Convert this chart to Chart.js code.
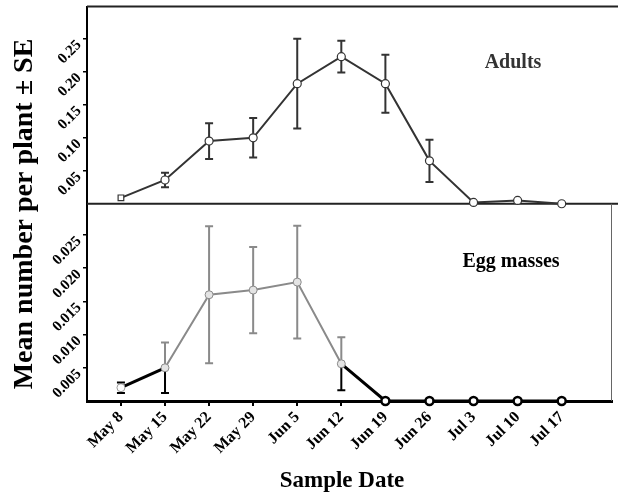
<!DOCTYPE html>
<html>
<head>
<meta charset="utf-8">
<script src="https://cdn.jsdelivr.net/npm/chart.js@4"></script>
<style>
  html, body { margin: 0; padding: 0; background: #fff; }
</style>
</head>
<body>
<canvas id="chart" width="618" height="498"></canvas>
<script>
const dates = ['May 8', 'May 15', 'May 22', 'May 29', 'Jun 5', 'Jun 12', 'Jun 19', 'Jun 26', 'Jul 3', 'Jul 10', 'Jul 17'];
const adultMean = [0.009, 0.036, 0.095, 0.100, 0.182, 0.223, 0.182, 0.065, 0.002, 0.005, 0.0];
const adultSE = [0, 0.011, 0.027, 0.030, 0.068, 0.024, 0.044, 0.032, 0, 0, 0];
const eggMean = [0.002, 0.005, 0.016, 0.0167, 0.0179, 0.0056, 0, 0, 0, 0, 0];
const eggSE = [0.0008, 0.0038, 0.0103, 0.0065, 0.0085, 0.004, 0, 0, 0, 0, 0];
const adultTicks = [0.05, 0.10, 0.15, 0.20, 0.25];
const adultTickLabels = ['0.05', '0.10', '0.15', '0.20', '0.25'];
const eggTicks = [0.005, 0.010, 0.015, 0.020, 0.025];
const eggTickLabels = ['0.005', '0.010', '0.015', '0.020', '0.025'];

const serif = '"Liberation Serif", "DejaVu Serif", serif';
const grey = '#8a8a8a';
const isGreyEgg = i => i >= 1 && i <= 5;

// error bars, drawn under the markers
const errorBars = {
  id: 'errorBars',
  beforeDatasetsDraw(chart) {
    const ctx = chart.ctx, xs = chart.scales.x;
    function draw(ys, mean, se, upColor, downColor) {
      mean.forEach((m, i) => {
        if (!se[i]) return;
        const x = xs.getPixelForValue(i);
        const y = ys.getPixelForValue(m);
        const yt = ys.getPixelForValue(m + se[i]);
        const yb = ys.getPixelForValue(Math.max(m - se[i], 0));
        ctx.lineWidth = 2;
        ctx.strokeStyle = upColor(i);
        ctx.beginPath();
        ctx.moveTo(x, y); ctx.lineTo(x, yt);
        ctx.moveTo(x - 4, yt); ctx.lineTo(x + 4, yt);
        ctx.stroke();
        ctx.strokeStyle = downColor(i);
        ctx.beginPath();
        ctx.moveTo(x, y); ctx.lineTo(x, yb);
        ctx.moveTo(x - 4, yb); ctx.lineTo(x + 4, yb);
        ctx.stroke();
      });
    }
    ctx.save();
    draw(chart.scales.y1, adultMean, adultSE, () => '#333', () => '#333');
    draw(chart.scales.y2, eggMean, eggSE,
      i => isGreyEgg(i) ? grey : '#000',
      i => (i === 0 || i === 1 || i === 5) ? '#000' : grey);
    ctx.restore();
  }
};

// panel frame lines
const frame = {
  id: 'frame',
  beforeDatasetsDraw(chart) {
    const ctx = chart.ctx, a = chart.chartArea, y1 = chart.scales.y1;
    ctx.save();
    ctx.strokeStyle = '#222';
    ctx.lineWidth = 2;
    ctx.beginPath();
    ctx.moveTo(a.left, a.top); ctx.lineTo(chart.width, a.top);
    ctx.moveTo(a.left, y1.bottom); ctx.lineTo(chart.width, y1.bottom);
    ctx.stroke();
    ctx.strokeStyle = '#666';
    ctx.lineWidth = 1;
    ctx.beginPath();
    ctx.moveTo(a.right, y1.bottom); ctx.lineTo(a.right, a.bottom);
    ctx.stroke();
    ctx.restore();
  }
};

// rotated y tick labels, titles and panel names
const texts = {
  id: 'texts',
  afterDraw(chart) {
    const ctx = chart.ctx;
    ctx.save();
    ctx.fillStyle = '#000';
    ctx.font = 'bold 15px ' + serif;
    ctx.textAlign = 'right';
    ctx.textBaseline = 'middle';
    function yLabels(ys, ticks, labels) {
      ticks.forEach((v, i) => {
        const py = ys.getPixelForValue(v);
        ctx.save();
        ctx.translate(ys.right - 8, py + 4);
        ctx.rotate(-Math.PI / 4);
        ctx.fillText(labels[i], 0, 0);
        ctx.restore();
      });
    }
    yLabels(chart.scales.y1, adultTicks, adultTickLabels);
    yLabels(chart.scales.y2, eggTicks, eggTickLabels);

    ctx.textAlign = 'center';
    ctx.textBaseline = 'alphabetic';
    ctx.fillStyle = '#333';
    ctx.font = 'bold 20px ' + serif;
    ctx.fillText('Adults', 513, 68);
    ctx.fillStyle = '#000';
    ctx.font = 'bold 20px ' + serif;
    ctx.fillText('Egg masses', 511, 267);

    ctx.textBaseline = 'middle';
    ctx.font = 'bold 23px ' + serif;
    ctx.fillText('Sample Date', 342, 481);

    ctx.save();
    ctx.translate(25, 214);
    ctx.rotate(-Math.PI / 2);
    ctx.font = 'bold 28px ' + serif;
    ctx.fillText('Mean number per plant \u00b1 SE', 0, 0);
    ctx.restore();
    ctx.restore();
  }
};

new Chart(document.getElementById('chart'), {
  type: 'line',
  data: {
    datasets: [{
      label: 'Adults',
      data: adultMean.map((v, i) => ({ x: i, y: v })),
      yAxisID: 'y1',
      borderColor: '#333',
      borderWidth: 2,
      pointStyle: c => c.dataIndex === 0 ? 'rect' : 'circle',
      pointRadius: 4,
      pointBorderWidth: 1.2,
      pointBackgroundColor: '#fff',
      pointBorderColor: '#333',
      clip: false
    }, {
      label: 'Egg masses',
      data: eggMean.map((v, i) => ({ x: i, y: v })),
      yAxisID: 'y2',
      borderColor: '#000',
      borderWidth: 3,
      segment: {
        borderColor: c => isGreyEgg(c.p0DataIndex) && isGreyEgg(c.p1DataIndex) ? grey : '#000',
        borderWidth: c => isGreyEgg(c.p0DataIndex) && isGreyEgg(c.p1DataIndex) ? 2 : 3
      },
      pointRadius: 4,
      pointBorderWidth: c => isGreyEgg(c.dataIndex) || c.dataIndex === 0 ? 1 : 2.5,
      pointBackgroundColor: c => isGreyEgg(c.dataIndex) ? '#e4e4e4' : '#fff',
      pointBorderColor: c => isGreyEgg(c.dataIndex) ? grey : (c.dataIndex === 0 ? '#999' : '#000'),
      clip: false
    }]
  },
  options: {
    responsive: false,
    animation: false,
    layout: { padding: { top: 6, right: 3, left: 0, bottom: 0 } },
    plugins: { legend: { display: false }, tooltip: { enabled: false } },
    scales: {
      x: {
        type: 'linear',
        min: -0.77,
        max: 11.13,
        afterFit: s => { s.height = 97; },
        afterBuildTicks: s => { s.ticks = dates.map((d, i) => ({ value: i })); },
        grid: { drawOnChartArea: false, tickLength: 5, color: '#000', lineWidth: 2 },
        border: { color: '#000', width: 3 },
        ticks: {
          callback: v => dates[v],
          color: '#000',
          font: { family: serif, weight: 'bold', size: 16 },
          minRotation: 45,
          maxRotation: 45,
          padding: 2,
          autoSkip: false
        }
      },
      y2: {
        type: 'linear',
        position: 'left',
        stack: 'panels',
        stackWeight: 1,
        min: 0,
        max: 0.0297,
        afterFit: s => { s.width = 87; },
        afterBuildTicks: s => { s.ticks = eggTicks.map(v => ({ value: v })); },
        grid: { drawOnChartArea: false, tickLength: 4, color: '#000', lineWidth: 1.5 },
        border: { color: '#000', width: 2 },
        ticks: { display: false }
      },
      y1: {
        type: 'linear',
        position: 'left',
        stack: 'panels',
        stackWeight: 1,
        min: 0,
        max: 0.299,
        afterFit: s => { s.width = 87; },
        afterBuildTicks: s => { s.ticks = adultTicks.map(v => ({ value: v })); },
        grid: { drawOnChartArea: false, tickLength: 4, color: '#000', lineWidth: 1.5 },
        border: { color: '#000', width: 2 },
        ticks: { display: false }
      }
    }
  },
  plugins: [frame, errorBars, texts]
});
</script>
</body>
</html>
